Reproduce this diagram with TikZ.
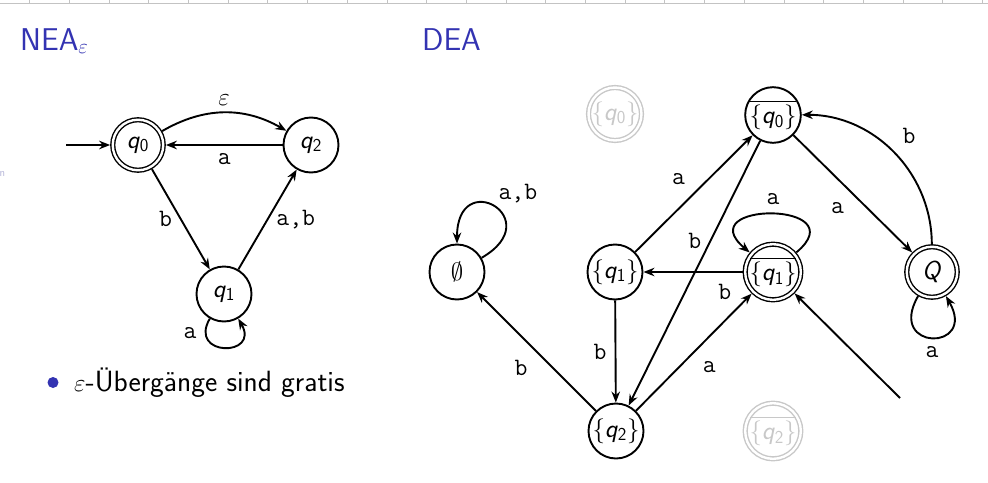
\documentclass[tikz,border=0pt]{standalone}
\usepackage{amsmath,amssymb}
\usepackage{tikz}
\usepackage{xcolor}
\usetikzlibrary{arrows.meta}

\definecolor{beamerblue}{RGB}{51,51,178}
\definecolor{fadegray}{RGB}{200,200,200}
\definecolor{navgray}{RGB}{195,195,195}
\definecolor{navblue}{RGB}{180,180,215}

\newcommand{\sq}[1]{\textit{q}\textsubscript{#1}}

\begin{document}
\begin{tikzpicture}[x=1pt, y=-1pt,
  zst/.style={circle, draw, line width=1.9pt, minimum size=55pt, inner sep=0pt, font=\sffamily\fontsize{26}{28}\selectfont},
  acc/.style={zst, double, double distance=2.4pt, line width=1.4pt, minimum size=50.5pt, outer sep=2.6pt},
  ghost/.style={draw=fadegray, text=fadegray},
  lbl/.style={font=\ttfamily\fontsize{25}{27}\selectfont, inner sep=8pt},
  tr/.style={-{Stealth[length=11pt,width=8.5pt]}, line width=1.9pt}]
\useasboundingbox (0,0) rectangle (988,482);
\draw[navgray, line width=1pt] (0,3) -- (988,3);
\foreach \i in {0,...,24}
  \draw[navgray, line width=0.8pt] ({29.6+39.7*\i},0) -- ({29.6+39.7*\i},3);
\node[font=\sffamily\fontsize{11}{12}\selectfont, text=navblue, anchor=base west, inner sep=0pt] (navn) at (-0.5,176) {n};

\node[font=\sffamily\fontsize{31.5}{34}\selectfont, text=beamerblue, anchor=base west, inner sep=0pt] (tnea) at (20,50) {NEA$_\varepsilon$};
\node[font=\sffamily\fontsize{31.5}{34}\selectfont, text=beamerblue, anchor=base west, inner sep=0pt] (tdea) at (422,50) {DEA};

\node[acc] (q0) at (138,145) {\sq0};
\node[zst] (q2) at (311,145) {\sq2};
\node[zst] (q1) at (224,294) {\sq1};
\coordinate (s0) at (66,145);
\draw[tr] (s0) -- (q0);
\draw[tr] (q0) to[bend left=30] node[lbl, above, inner sep=6pt] {$\varepsilon$} (q2);
\draw[tr] (q2) -- node[lbl, below] {a} (q0);
\draw[tr] (q0) -- node[lbl, left] {b} (q1);
\draw[tr] (q1) -- node[lbl, right] {a,b} (q2);
\draw[tr] (q1) to[out=-120, in=-60, looseness=4] node[lbl, pos=0.15, left] {a} (q1);

\node[circle, fill=beamerblue, minimum size=11pt, inner sep=0pt] (bul) at (53,382.5) {};
\node[font=\sffamily\fontsize{29.3}{32}\selectfont, anchor=base west, inner sep=0pt] (btxt) at (74,391.5) {$\varepsilon$-Übergänge sind gratis};

\node[acc, ghost] (g0) at (615,114) {$\{$\sq0$\}$};
\node[zst] (n0) at (773,115) {$\overline{\{\mbox{\sq0}\}}$};
\node[zst] (em) at (457,272) {$\emptyset$};
\node[zst] (n1) at (615,272) {$\{$\sq1$\}$};
\node[acc] (m1) at (773,272) {$\overline{\{\mbox{\sq1}\}}$};
\node[acc] (qq) at (932,272) {\textit{Q}};
\node[zst] (n2) at (616,431) {$\{$\sq2$\}$};
\node[acc, ghost] (g2) at (773,431) {$\overline{\{\mbox{\sq2}\}}$};
\coordinate (s1) at (900,398);

\draw[tr] (n1) -- node[lbl, above left] {a} (n0);
\draw[tr] (n0) -- node[lbl, pos=0.38, left] {b} (n2);
\draw[tr] (n0) -- node[lbl, below left] {a} (qq);
\draw[tr] (qq) to[bend right=45] node[lbl, above right] {b} (n0);
\draw[tr] (qq) to[out=-120, in=-60, looseness=5.9] node[lbl, below] {a} (qq);
\draw[tr] (m1) to[out=40, in=140, looseness=4.4] node[lbl, above] {a} (m1);
\draw[tr] (m1) -- node[lbl, pos=0.18, below, inner sep=11pt] {b} (n1);
\draw[tr] (n1) -- node[lbl, left] {b} (n2);
\draw[tr] (n2) -- node[lbl, below right] {a} (m1);
\draw[tr] (n2) -- node[lbl, below left] {b} (em);
\draw[tr] (em) to[out=30, in=90, looseness=7] node[lbl, above right, inner sep=3pt] {a,b} (em);
\draw[tr] (s1) -- (m1);
\end{tikzpicture}
\end{document}
